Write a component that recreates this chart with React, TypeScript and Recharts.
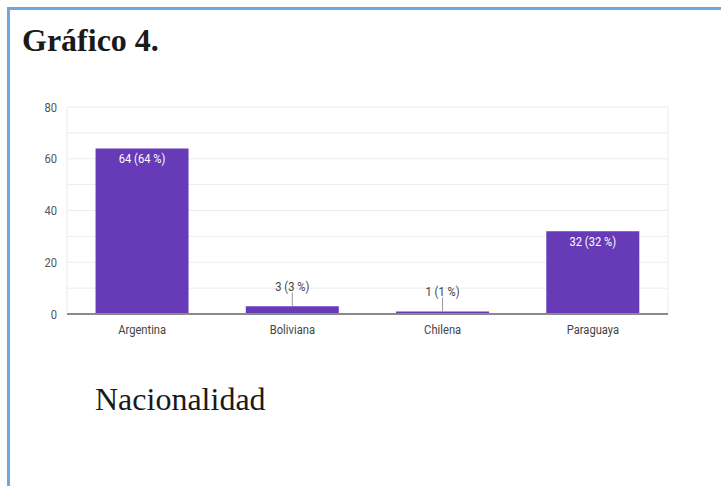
import React from 'react';
import { BarChart, Bar, XAxis, YAxis, CartesianGrid, LabelList } from 'recharts';

const categories = ['Argentina', 'Boliviana', 'Chilena', 'Paraguaya'];
const counts = [64, 3, 1, 32];
const yTicks = [0, 10, 20, 30, 40, 50, 60, 70, 80];
const yLabelTicks = [0, 20, 40, 60, 80];
const title = 'Gráfico 4.';
const caption = 'Nacionalidad';

const total = counts.reduce((a, b) => a + b, 0);
const data = categories.map((name, i) => ({ name, value: counts[i] }));

const FONT = 'Roboto, Arial, sans-serif';
const SX = 0.86;

const NarrowText = ({ x, y, anchor, fill, size, children }: any) => (
  <text
    transform={`translate(${x},${y}) scale(${SX},1)`}
    textAnchor={anchor}
    fill={fill}
    fontSize={size}
    fontFamily={FONT}
  >
    {children}
  </text>
);

const XTick = (props: any) => {
  const { x, y, payload } = props;
  return (
    <NarrowText x={x} y={y + 12} anchor="middle" fill="#444" size={13}>
      {payload.value}
    </NarrowText>
  );
};

const YTick = (props: any) => {
  const { x, y, payload } = props;
  if (!yLabelTicks.includes(payload.value)) return null;
  return (
    <NarrowText x={x} y={y + 4.5} anchor="end" fill="#555" size={13}>
      {String(payload.value)}
    </NarrowText>
  );
};

const BarLabel = (props: any) => {
  const { x, y, width, height, value } = props;
  const pct = Math.round((value / total) * 100);
  const text = `${value} (${pct} %)`;
  const cx = x + width / 2;
  if (height > 30) {
    return (
      <NarrowText x={cx} y={y + 15} anchor="middle" fill="#ffffff" size={13}>
        {text}
      </NarrowText>
    );
  }
  return (
    <g>
      <line x1={cx} x2={cx} y1={y - 14} y2={y} stroke="#999" strokeWidth={1} />
      <NarrowText x={cx} y={y - 15} anchor="middle" fill="#444" size={13}>
        {text}
      </NarrowText>
    </g>
  );
};

export default function App() {
  return (
    <div style={{ position: 'absolute', left: 0, top: 0, width: 721, height: 486, background: '#fff', overflow: 'hidden' }}>
      <div
        style={{
          position: 'absolute',
          left: 7,
          top: 7,
          width: 720,
          height: 486,
          borderTop: '3px solid #6fa8dc',
          borderLeft: '3px solid #6fa8dc',
        }}
      />
      <div
        style={{
          position: 'absolute',
          left: 22,
          top: 22,
          fontFamily: '"Liberation Serif", "Times New Roman", serif',
          fontWeight: 'bold',
          fontSize: 32,
          color: '#1a1a1a',
          lineHeight: '36px',
        }}
      >
        {title}
      </div>
      <div style={{ position: 'absolute', left: 0, top: 0 }}>
        <BarChart
          width={721}
          height={486}
          data={data}
          margin={{ top: 107, right: 53, bottom: 142, left: 27 }}
          barCategoryGap="19%"
        >
          <CartesianGrid
            stroke="#ececec"
            strokeWidth={1}
            verticalCoordinatesGenerator={({ offset }: any) => [offset.left, offset.left + offset.width]}
          />
          <XAxis
            dataKey="name"
            tickLine={false}
            axisLine={{ stroke: '#8a8a8a', strokeWidth: 2 }}
            tick={<XTick />}
            height={30}
          />
          <YAxis
            domain={[0, 80]}
            ticks={yTicks}
            interval={0}
            tickLine={false}
            axisLine={false}
            tick={<YTick />}
            tickMargin={4}
            width={40}
          />
          <Bar dataKey="value" fill="#673ab7" isAnimationActive={false}>
            <LabelList dataKey="value" content={<BarLabel />} />
          </Bar>
        </BarChart>
      </div>
      <div
        style={{
          position: 'absolute',
          left: 95,
          top: 381,
          fontFamily: '"Liberation Serif", "Times New Roman", serif',
          fontSize: 32,
          color: '#1a1a1a',
          lineHeight: '36px',
        }}
      >
        {caption}
      </div>
    </div>
  );
}
